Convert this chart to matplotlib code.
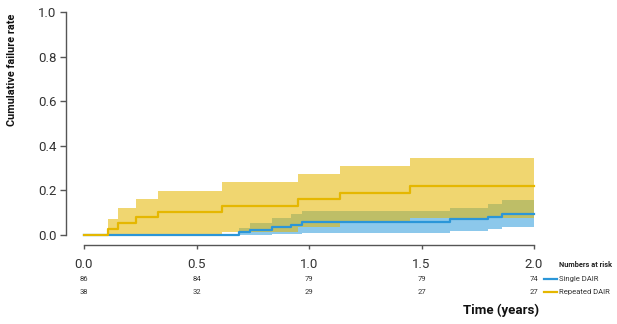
import matplotlib
matplotlib.use("Agg")
import matplotlib.pyplot as plt
import matplotlib.transforms as mtransforms
from matplotlib.lines import Line2D

plt.rcParams['font.family'] = ['Roboto', 'DejaVu Sans']

# Single DAIR: step times, cumulative failure and confidence band
t_single = [0, 0.689, 0.738, 0.837, 0.92, 0.97, 1.627, 1.794, 1.858, 2.0]
cif_single = [0, 0.012, 0.023, 0.035, 0.047, 0.058, 0.070, 0.081, 0.093, 0.093]
hi_single = [0, 0.033, 0.053, 0.074, 0.092, 0.108, 0.121, 0.139, 0.156, 0.156]
lo_single = [0, 0.0, 0.001, 0.003, 0.006, 0.009, 0.018, 0.027, 0.035, 0.035]

# Repeated DAIR
t_rep = [0, 0.108, 0.153, 0.231, 0.327, 0.614, 0.953, 1.138, 1.449, 2.0]
cif_rep = [0, 0.026, 0.053, 0.079, 0.105, 0.132, 0.160, 0.190, 0.220, 0.220]
hi_rep = [0, 0.072, 0.120, 0.160, 0.199, 0.236, 0.274, 0.309, 0.344, 0.344]
lo_rep = [0, 0, 0, 0, 0, 0.015, 0.035, 0.060, 0.075, 0.075]

# numbers at risk
risk_times = [0.0, 0.5, 1.0, 1.5, 2.0]
risk_single = [86, 84, 79, 79, 74]
risk_rep = [38, 32, 29, 27, 27]

blue_line = '#2b96d8'
blue_fill = '#8cc8eb'
gold_line = '#e5b700'
gold_fill = '#e5b704'
axis_col = '#555555'
text_col = '#333333'

W, H = 617, 324
fig = plt.figure(figsize=(W / 100, H / 100), dpi=100)
ax = fig.add_axes([84 / W, 1 - 235 / H, 450 / W, 223 / H])

ax.fill_between(t_single, lo_single, hi_single, step='post', color=blue_fill, lw=0)
ax.fill_between(t_rep, lo_rep, hi_rep, step='post', color=gold_fill, alpha=0.57, lw=0)
ax.step(t_single, cif_single, where='post', color=blue_line, lw=1.6, clip_on=False)
ax.step(t_rep, cif_rep, where='post', color=gold_line, lw=1.6, clip_on=False)

ax.set_xlim(0, 2)
ax.set_ylim(0, 1)
ax.set_xticks(risk_times)
ax.set_xticklabels(['%.1f' % v for v in risk_times])
ax.set_yticks([0, 0.2, 0.4, 0.6, 0.8, 1.0])
ax.set_yticklabels(['0.0', '0.2', '0.4', '0.6', '0.8', '1.0'])

for s in ['top', 'right']:
    ax.spines[s].set_visible(False)
ax.spines['left'].set_position(('outward', 12.96))
ax.spines['bottom'].set_position(('outward', 7.2))
for s in ['left', 'bottom']:
    ax.spines[s].set_color(axis_col)
    ax.spines[s].set_linewidth(1.0)
ax.tick_params(axis='y', length=4, width=1.0, color=axis_col, pad=3,
               labelsize=9.5, labelcolor=text_col)
ax.tick_params(axis='x', length=3, width=1.0, color=axis_col, pad=6,
               labelsize=9.5, labelcolor=text_col)

# numbers at risk under the ticks
trans = mtransforms.blended_transform_factory(ax.transData, fig.transFigure)
for x, a, b in zip(risk_times, risk_single, risk_rep):
    ax.text(x, 1 - 279 / H, str(a), transform=trans, ha='center', va='center',
            fontsize=5.5, color=text_col, clip_on=False)
    ax.text(x, 1 - 292 / H, str(b), transform=trans, ha='center', va='center',
            fontsize=5.5, color=text_col, clip_on=False)

fig.text(559 / W, 1 - 265 / H, 'Numbers at risk', ha='left', va='center',
         fontsize=5.3, fontweight='bold', color='#222222')
fig.add_artist(Line2D([544 / W, 557 / W], [1 - 279 / H] * 2, color=blue_line, lw=1.6))
fig.add_artist(Line2D([544 / W, 557 / W], [1 - 292 / H] * 2, color=gold_line, lw=1.6))
fig.text(559 / W, 1 - 279 / H, 'Single DAIR', ha='left', va='center',
         fontsize=5.5, color=text_col)
fig.text(559 / W, 1 - 292 / H, 'Repeated DAIR', ha='left', va='center',
         fontsize=5.5, color=text_col)

fig.text(539 / W, 1 - 310 / H, 'Time (years)', ha='right', va='center',
         fontsize=9.5, fontweight='bold', color='#111111')
fig.text(12 / W, 1 - 70 / H, 'Cumulative failure rate', ha='center', va='center',
         rotation=90, fontsize=7.8, fontweight='bold', color='#111111')

fig.savefig('out.png', dpi=100)
